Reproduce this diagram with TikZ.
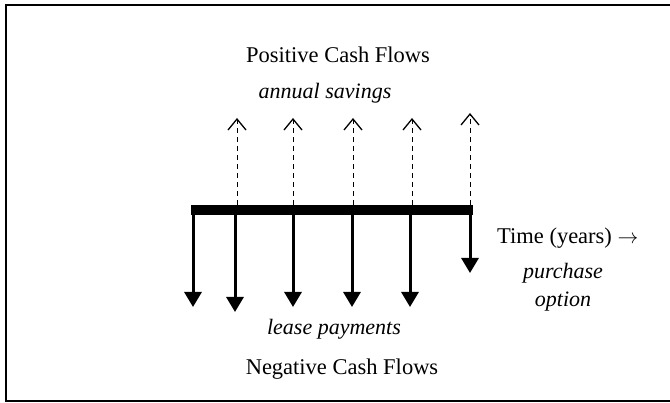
\documentclass[tikz,border=0pt]{standalone}
\usepackage{fontspec}
\setmainfont{Liberation Serif}
\usetikzlibrary{arrows.meta}
\begin{document}
\begin{tikzpicture}[x=1pt,y=-1pt,
  lbl/.style={inner sep=0pt,font=\fontsize{22.5}{26}\selectfont},
  ilbl/.style={lbl,font=\fontsize{22}{28}\selectfont\itshape},
  outflow/.style={line width=3pt,-{Triangle[width=17pt,length=15pt]}},
  inflow/.style={line width=1pt,dash pattern=on 5pt off 4pt,-{Straight Barb[width=18pt,length=11pt,line width=1.3pt]}},
  timeline/.style={line width=10pt}]
  \useasboundingbox (0,0) rectangle (670,403);
  % frame (right side runs off the page)
  \draw[line width=2pt] (680,5) -- (6,5) -- (6,401) -- (680,401);

  % time line
  \coordinate (t0) at (191,210);
  \coordinate (t1) at (473,210);
  \draw[timeline] (t0) -- (t1);

  % lease payments and purchase option (outflows)
  \foreach \n/\x/\y in {1/193/307, 2/235/312, 3/293/307, 4/352/307, 5/410/307, 6/470/273} {
    \coordinate (o\n) at (\x,212);
    \coordinate (e\n) at (\x,\y);
    \draw[outflow] (o\n) -- (e\n);
  }

  % annual savings (inflows)
  \foreach \n/\x/\y in {1/237/118, 2/293/118, 3/353/118, 4/412/118, 5/470/113} {
    \coordinate (s\n) at (\x,205);
    \coordinate (u\n) at (\x,\y);
    \draw[inflow] (s\n) -- (u\n);
  }

  \node[lbl] (pos) at (338,55) {Positive Cash Flows};
  \node[ilbl] (sav) at (325,93) {annual savings};
  \node[lbl,anchor=west] (time) at (497,238) {Time (years) $\rightarrow$};
  \node[ilbl,align=center] (opt) at (563,287) {purchase\\option};
  \node[ilbl] (lease) at (334,329) {lease payments};
  \node[lbl] (neg) at (342,369) {Negative Cash Flows};
\end{tikzpicture}
\end{document}
